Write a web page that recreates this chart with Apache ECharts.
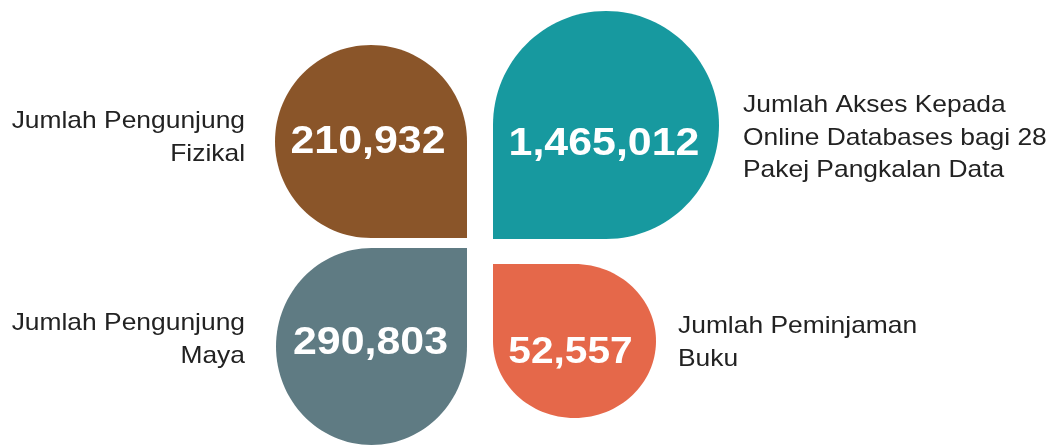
<!DOCTYPE html>
<html>
<head>
<meta charset="utf-8">
<script src="https://cdn.jsdelivr.net/npm/echarts@6/dist/echarts.min.js"></script>
<style>
html,body{margin:0;padding:0;background:#fff;}
#chart{width:1056px;height:446px;}
</style>
</head>
<body>
<div id="chart"></div>
<script>
// ---- data ----
const categories = [
  'Jumlah Pengunjung\nFizikal',
  'Jumlah Akses Kepada\nOnline Databases bagi 28\nPakej Pangkalan Data',
  'Jumlah Pengunjung\nMaya',
  'Jumlah Peminjaman\nBuku'
];
const values = [210932, 1465012, 290803, 52557];
const colors = ['#8a5529', '#17999f', '#5f7b83', '#e5684a'];

// ---- layout (positions / sizes, not data) ----
// corner: the square corner point; dir: direction the petal grows; w/h: petal size
const layout = [
  { corner: [467, 238], dir: [-1, -1], w: 192, h: 193, numOff: [-3, 1],  numSize: 39, label: [245, 138], align: 'right' },
  { corner: [493, 239], dir: [1, -1],  w: 226, h: 228, numOff: [-2, 19], numSize: 39, label: [743, 138], align: 'left' },
  { corner: [467, 248], dir: [-1, 1],  w: 191, h: 197, numOff: [-1, -3], numSize: 39, label: [245, 340], align: 'right' },
  { corner: [493, 264], dir: [1, 1],   w: 163, h: 154, numOff: [-4, 12], numSize: 37, label: [678, 343], align: 'left' }
];

const chart = echarts.init(document.getElementById('chart'), null, { renderer: 'canvas' });
const K = 0.5523;

function petalPath(L) {
  const cx0 = L.corner[0], cy0 = L.corner[1];
  const sx = L.dir[0], sy = L.dir[1];
  const xFar = cx0 + sx * L.w, yFar = cy0 + sy * L.h;
  const ex = cx0 + sx * L.w / 2, ey = cy0 + sy * L.h / 2;
  const p = [];
  p.push('M' + cx0 + ' ' + cy0);
  p.push('L' + cx0 + ' ' + ey);
  p.push('C' + cx0 + ' ' + (ey + K * (yFar - ey)) + ' ' + (ex + K * (cx0 - ex)) + ' ' + yFar + ' ' + ex + ' ' + yFar);
  p.push('C' + (ex + K * (xFar - ex)) + ' ' + yFar + ' ' + xFar + ' ' + (ey + K * (yFar - ey)) + ' ' + xFar + ' ' + ey);
  p.push('C' + xFar + ' ' + (ey + K * (cy0 - ey)) + ' ' + (ex + K * (xFar - ex)) + ' ' + cy0 + ' ' + ex + ' ' + cy0);
  p.push('L' + cx0 + ' ' + cy0 + 'Z');
  return { d: p.join(' '), ex: ex, ey: ey };
}

const seriesData = values.map(function (v, i) {
  return { value: v, name: categories[i] };
});

chart.setOption({
  animation: false,
  backgroundColor: '#ffffff',
  series: [{
    type: 'custom',
    coordinateSystem: 'none',
    data: seriesData,
    renderItem: function (params, api) {
      const i = params.dataIndex;
      const L = layout[i];
      const v = api.value(0);
      const pp = petalPath(L);
      return {
        type: 'group',
        children: [
          { type: 'path', shape: { pathData: pp.d }, style: { fill: colors[i] } },
          {
            type: 'text',
            x: pp.ex + L.numOff[0], y: pp.ey + L.numOff[1],
            scaleX: 1.1,
            style: {
              text: v.toLocaleString('en-US'),
              fill: '#ffffff',
              font: 'bold ' + L.numSize + 'px "Liberation Sans", Arial, sans-serif',
              align: 'center', verticalAlign: 'middle'
            }
          },
          {
            type: 'text',
            x: L.label[0], y: L.label[1],
            scaleX: 1.1,
            style: {
              text: categories[i],
              fill: '#222222',
              font: '24px "Liberation Sans", Arial, sans-serif',
              lineHeight: 32.5,
              align: L.align, verticalAlign: 'middle'
            }
          }
        ]
      };
    }
  }]
});
</script>
</body>
</html>
